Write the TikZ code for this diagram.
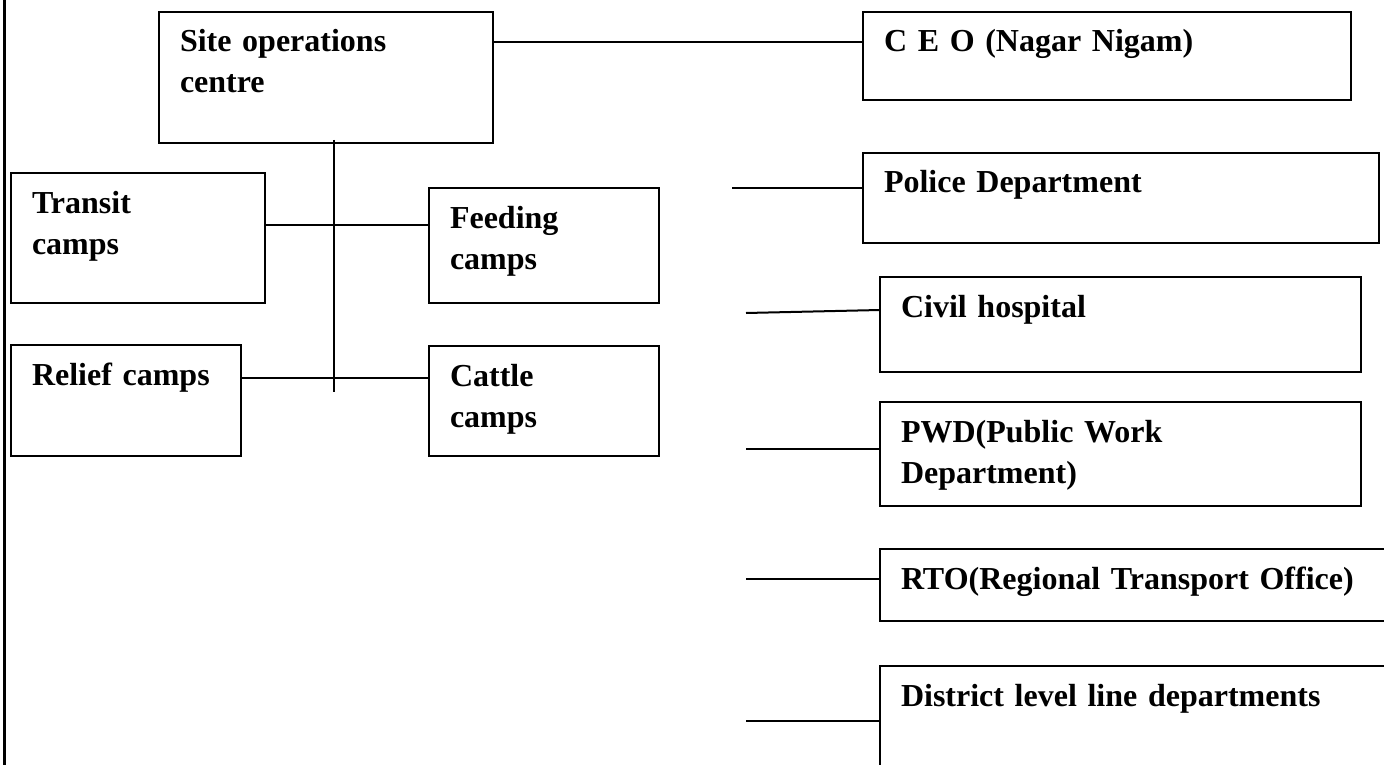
\documentclass[tikz,border=0pt]{standalone}
\usepackage{fontspec}
\setmainfont{Liberation Serif}
\usetikzlibrary{positioning,calc}
\tikzset{
  ob/.style={draw, line width=2pt, anchor=north west, align=left,
             font=\fontsize{32}{41}\selectfont\bfseries,
             inner xsep=21pt, inner ysep=0pt, outer sep=0pt,
             text height=40pt},
  ln/.style={draw=black, line width=2pt},
}

\begin{document}
\begin{tikzpicture}[x=1pt, y=-1pt]
  \useasboundingbox (0,0) rectangle (1384,765);
  \clip (0,0) rectangle (1384,765);
  % page frame on the left
  \coordinate (frame-top) at (4,0);
  \coordinate (frame-bot) at (4,765);
  \draw[ln, line width=3pt] (frame-top) -- (frame-bot);

  % site side
  \node[ob, text width=292pt, text depth=91pt] (soc) at (159,12) {Site operations\\centre};
  \node[ob, text width=212pt, text depth=90pt] (transit) at (11,173) {Transit\\camps};
  \node[ob, text width=188pt, text depth=75pt] (feeding) at (429,188) {Feeding\\camps};
  \node[ob, text width=188pt, text depth=71pt] (relief) at (11,345) {Relief camps};
  \node[ob, text width=188pt, text depth=70pt] (cattle) at (429,346) {Cattle\\camps};

  % departments
  \node[ob, text width=446pt, text depth=48pt] (ceo) at (863,12) {C E O (Nagar Nigam)};
  \node[ob, text width=474pt, text depth=50pt] (police) at (863,153) {Police Department};
  \node[ob, text width=439pt, text depth=55pt] (civil) at (880,277) {Civil hospital};
  \node[ob, text width=439pt, text depth=64pt] (pwd) at (880,402) {PWD(Public Work\\Department)};
  \node[ob, text width=498pt, text depth=32pt] (rto) at (880,549) {RTO(Regional Transport Office)};
  \node[ob, text width=498pt, text depth=100pt] (district) at (880,666) {District level line departments};

  % entry points
  \coordinate (ceo-in) at ([yshift=-30pt]ceo.north west);
  \coordinate (feeding-in) at ([yshift=-37pt]feeding.north west);
  \coordinate (cattle-in) at ([yshift=-32pt]cattle.north west);
  \coordinate (police-in) at ([yshift=-35pt]police.north west);
  \coordinate (civil-in) at ([yshift=-33pt]civil.north west);
  \coordinate (pwd-in) at ([yshift=-47pt]pwd.north west);
  \coordinate (rto-in) at ([yshift=-30pt]rto.north west);
  \coordinate (district-in) at ([yshift=-55pt]district.north west);

  % loose ends
  \coordinate (stem-top) at (334,140);
  \coordinate (stem-bot) at (334,392);
  \coordinate (police-end) at (732,188);
  \coordinate (civil-end) at (746,313);
  \coordinate (pwd-end) at (746,449);
  \coordinate (rto-end) at (746,579);
  \coordinate (district-end) at (746,721);

  % connectors
  \draw[ln] (soc.east |- ceo-in) -- (ceo-in);
  \draw[ln] (stem-top) -- (stem-bot);
  \draw[ln] (transit.east |- feeding-in) -- (feeding-in);
  \draw[ln] (relief.east |- cattle-in) -- (cattle-in);
  \draw[ln] (police-end) -- (police-in);
  \draw[ln] (civil-end) -- (civil-in);
  \draw[ln] (pwd-end) -- (pwd-in);
  \draw[ln] (rto-end) -- (rto-in);
  \draw[ln] (district-end) -- (district-in);
\end{tikzpicture}
\end{document}
